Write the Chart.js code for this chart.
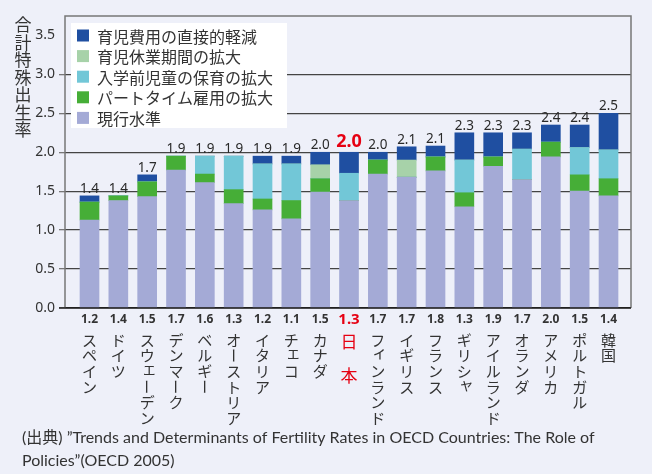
<!DOCTYPE html>
<html>
<head>
<meta charset="utf-8">
<script src="https://cdn.jsdelivr.net/npm/chart.js@4/dist/chart.umd.min.js"></script>
<style>
  html, body { margin: 0; padding: 0; background: #eef0f9; }
  #wrap { width: 652px; height: 474px; }
</style>
</head>
<body>
<div id="wrap"><canvas id="grafico" width="652" height="474"></canvas></div>
<script>
// 国名（下から縦書き）
const paises = ['スペイン', 'ドイツ', 'スウェーデン', 'デンマーク', 'ベルギー', 'オーストリア', 'イタリア', 'チェコ', 'カナダ', '日本',
  'フィンランド', 'イギリス', 'フランス', 'ギリシャ', 'アイルランド', 'オランダ', 'アメリカ', 'ポルトガル', '韓国'];
// 現行の合計特殊出生率（下のラベル）
const tasaActual = ['1.2', '1.4', '1.5', '1.7', '1.6', '1.3', '1.2', '1.1', '1.5', '1.3', '1.7', '1.7', '1.8', '1.3', '1.9', '1.7', '2.0', '1.5', '1.4'];
// 政策後の出生率（上のラベル）
const tasaTotal = ['1.4', '1.4', '1.7', '1.9', '1.9', '1.9', '1.9', '1.9', '2.0', '2.0', '2.0', '2.1', '2.1', '2.3', '2.3', '2.3', '2.4', '2.4', '2.5'];

// 積み上げの各要素（下から）
const genkou = [1.13, 1.38, 1.43, 1.77, 1.61, 1.34, 1.26, 1.145, 1.49, 1.38, 1.72, 1.68, 1.76, 1.30, 1.82, 1.65, 1.94, 1.50, 1.44];
const partTime = [0.23, 0.06, 0.19, 0.18, 0.11, 0.18, 0.14, 0.235, 0.17, 0, 0.18, 0, 0.18, 0.18, 0.12, 0, 0.19, 0.21, 0.22];
const hoiku = [0, 0, 0, 0, 0.23, 0.43, 0.45, 0.47, 0, 0.35, 0, 0, 0, 0.42, 0, 0.39, 0, 0.35, 0.37];
const kyugyo = [0, 0, 0, 0, 0, 0, 0, 0, 0.18, 0, 0, 0.22, 0, 0, 0, 0, 0, 0, 0];
const hiyou = [0.08, 0, 0.09, 0, 0, 0, 0.10, 0.10, 0.16, 0.27, 0.10, 0.17, 0.14, 0.35, 0.31, 0.21, 0.22, 0.29, 0.47];

const yTicks = [0, 0.5, 1.0, 1.5, 2.0, 2.5, 3.0, 3.5];
const yTickLabels = ['0.0', '0.5', '1.0', '1.5', '2.0', '2.5', '3.0', '3.5'];
const tituloY = '合計特殊出生率';
const fuente = ['(出典) ”Trends and Determinants of Fertility Rates in OECD Countries: The Role of', 'Policies”(OECD 2005)'];
const idxJapon = 9;

const JP = '"Noto Sans CJK JP", "Noto Sans", sans-serif';
const NUM = '"Noto Sans", "Noto Sans CJK JP", sans-serif';
const PIE = 'Lato, "Noto Sans CJK JP", sans-serif';

const aPuntos = arr => arr.map((v, i) => ({ x: i, y: v }));

const datasets = [
  { label: '現行水準', data: aPuntos(genkou), backgroundColor: '#a4aad6' },
  { label: 'パートタイム雇用の拡大', data: aPuntos(partTime), backgroundColor: '#46ae37' },
  { label: '入学前児童の保育の拡大', data: aPuntos(hoiku), backgroundColor: '#72c7d7' },
  { label: '育児休業期間の拡大', data: aPuntos(kyugyo), backgroundColor: '#a7d2a9' },
  { label: '育児費用の直接的軽減', data: aPuntos(hiyou), backgroundColor: '#1f4fa1' }
];
datasets.forEach(d => { d.barThickness = 19; d.borderWidth = 0; });

const pequenas = 'ァィゥェォッャュョ';

// 縦書きの文字を描く
function dibujarVertical(ctx, texto, x, y0, paso) {
  [...texto].forEach((ch, k) => {
    const y = y0 + k * paso;
    if (ch === 'ー') {
      ctx.save();
      ctx.translate(x, y);
      ctx.rotate(Math.PI / 2);
      ctx.fillText(ch, 0, 0);
      ctx.restore();
    } else if (pequenas.includes(ch)) {
      ctx.fillText(ch, x + 2, y - 3);
    } else {
      ctx.fillText(ch, x, y);
    }
  });
}

const extras = {
  id: 'extras',
  beforeDraw(chart) {
    const ctx = chart.ctx;
    ctx.save();
    ctx.fillStyle = '#eef0f9';
    ctx.fillRect(0, 0, chart.width, chart.height);
    ctx.restore();
  },
  afterDraw(chart) {
    const ctx = chart.ctx;
    const area = chart.chartArea;
    const xs = chart.scales.x;
    const ys = chart.scales.y;
    ctx.save();

    // 枠
    ctx.strokeStyle = '#777';
    ctx.lineWidth = 1.5;
    ctx.beginPath();
    ctx.moveTo(area.left, area.bottom);
    ctx.lineTo(area.left, area.top);
    ctx.lineTo(area.right, area.top);
    ctx.lineTo(area.right, area.bottom);
    ctx.stroke();
    ctx.strokeStyle = '#222';
    ctx.beginPath();
    ctx.moveTo(area.left - 6, area.bottom);
    ctx.lineTo(area.right, area.bottom);
    ctx.stroke();

    // 凡例
    ctx.fillStyle = '#ffffff';
    ctx.fillRect(71, 23, 216, 105);
    const orden = chart.data.datasets.slice().reverse();
    ctx.font = '16px ' + JP;
    ctx.textAlign = 'left';
    ctx.textBaseline = 'middle';
    orden.forEach((d, k) => {
      const cy = 35.5 + k * 20.6;
      ctx.fillStyle = d.backgroundColor;
      ctx.fillRect(77, cy - 6, 12, 12);
      ctx.fillStyle = '#333';
      ctx.fillText(d.label, 97, cy + 1);
    });

    // 棒の上の数値
    ctx.textAlign = 'center';
    tasaTotal.forEach((t, i) => {
      const total = genkou[i] + partTime[i] + hoiku[i] + kyugyo[i] + hiyou[i];
      const px = xs.getPixelForValue(i);
      const py = ys.getPixelForValue(total);
      if (i === idxJapon) {
        ctx.font = 'bold 18px ' + NUM;
        ctx.fillStyle = '#e60012';
        ctx.fillText(t, px, py - 10);
      } else {
        ctx.font = '13.5px ' + NUM;
        ctx.fillStyle = '#2a2a2a';
        ctx.fillText(t, px, py - 7);
      }
    });

    // 下の数値と国名
    tasaActual.forEach((t, i) => {
      const px = xs.getPixelForValue(i);
      if (i === idxJapon) {
        ctx.font = 'bold 15px ' + NUM;
        ctx.fillStyle = '#e60012';
        ctx.fillText(t, px, area.bottom + 12);
        ctx.font = '17px ' + JP;
        dibujarVertical(ctx, paises[i], px, area.bottom + 34, 34);
      } else {
        ctx.font = 'bold 12px ' + NUM;
        ctx.fillStyle = '#333';
        ctx.fillText(t, px, area.bottom + 12);
        ctx.font = '15px ' + JP;
        dibujarVertical(ctx, paises[i], px, area.bottom + 32, 15.6);
      }
    });

    // 縦軸タイトル
    ctx.font = '17px ' + JP;
    ctx.fillStyle = '#333';
    dibujarVertical(ctx, tituloY, 23, 25, 17.5);

    // 出典
    ctx.font = '16px ' + PIE;
    ctx.textAlign = 'left';
    ctx.fillStyle = '#333';
    ctx.fillText(fuente[0], 22, 438, 618);
    ctx.fillText(fuente[1], 22, 461);

    ctx.restore();
  }
};

const ctx = document.getElementById('grafico').getContext('2d');
new Chart(ctx, {
  type: 'bar',
  data: { datasets: datasets },
  options: {
    responsive: false,
    animation: false,
    layout: { padding: { top: 16, right: 21, left: 0, bottom: 0 } },
    plugins: { legend: { display: false }, tooltip: { enabled: false } },
    scales: {
      x: {
        type: 'linear',
        stacked: true,
        offset: false,
        bounds: 'data',
        min: -0.85,
        max: 18.78,
        grid: { display: false, offset: false },
        border: { display: false },
        ticks: { display: false },
        afterDataLimits: s => { s.min = -0.85; s.max = 18.78; },
        afterFit: s => { s.height = 166; }
      },
      y: {
        stacked: true,
        min: 0,
        max: 3.75,
        afterBuildTicks: s => { s.ticks = yTicks.map(v => ({ value: v })); },
        grid: {
          color: c => (c.tick && c.tick.value === 3.5) ? 'rgba(0,0,0,0)' : (c.tick && c.tick.value === 0 ? '#222' : '#444'),
          lineWidth: 1.3,
          tickColor: c => (c.tick && c.tick.value === 3.5) ? 'rgba(0,0,0,0)' : '#777',
          tickLength: 6
        },
        border: { display: false },
        ticks: {
          padding: 4,
          color: '#333',
          font: { size: 14, family: NUM },
          callback: (v, i) => yTickLabels[i]
        },
        afterFit: s => { s.width = 65; }
      }
    }
  },
  plugins: [extras]
});
</script>
</body>
</html>
